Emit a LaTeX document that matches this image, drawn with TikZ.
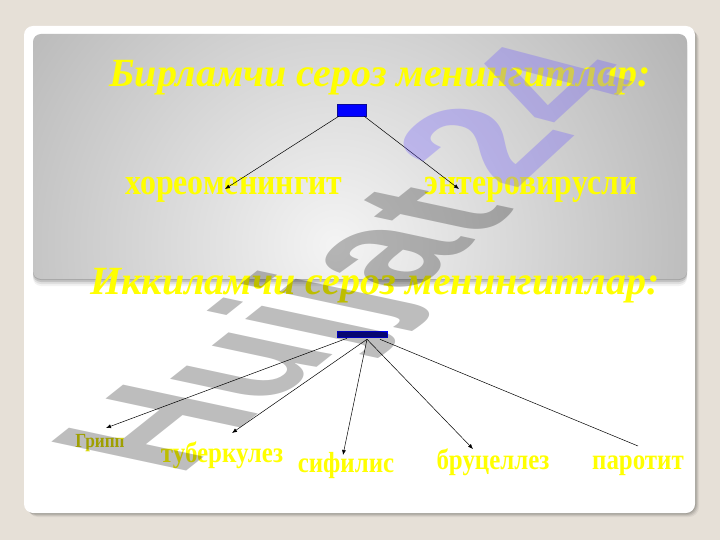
\documentclass[tikz,border=0pt]{standalone}
\usepackage{fontspec}
\setmainfont{Liberation Serif}
\newfontfamily\lblfont[FakeStretch=0.86]{Liberation Serif}
\newfontfamily\wmfont{Liberation Sans}
\usetikzlibrary{arrows.meta}

\definecolor{pagebg}{RGB}{230,224,215}
\definecolor{panelgrey}{RGB}{148,148,148}
\definecolor{panellight}{RGB}{244,244,244}
\definecolor{boxblue}{RGB}{0,0,255}
\definecolor{boxnavy}{RGB}{10,10,150}
\definecolor{lblyellow}{RGB}{255,255,0}
\definecolor{dimyellow}{RGB}{215,215,0}
\definecolor{wmlilac}{RGB}{110,90,255}

\tikzset{
  heading/.style={text=lblyellow, font=\fontsize{40}{44}\selectfont\bfseries\itshape, inner sep=0pt},
  kindtext/.style={text=lblyellow, font=\fontsize{37}{40}\selectfont\lblfont\bfseries, inner sep=0pt},
  smalltext/.style={text=lblyellow, font=\fontsize{29}{32}\selectfont\lblfont\bfseries, inner sep=0pt},
  rootbox/.style={draw=boxnavy, fill=boxblue, line width=0.6pt, inner sep=0pt},
  arr/.style={-{Latex[length=5pt,width=4pt]}, line width=0.5pt},
  wmark/.style={transform shape, inner sep=0pt, font=\fontsize{100}{100}\selectfont\wmfont\bfseries},
}

\begin{document}
\begin{tikzpicture}[x=1pt,y=-1pt]
\useasboundingbox (0,0) rectangle (720,540);
\fill[pagebg] (0,0) rectangle (720,540);

% card with soft shadow
\foreach \d/\o in {4/0.05,3/0.07,2/0.09,1/0.11}
  \fill[black,opacity=\o,rounded corners=10pt] (24+\d,26+\d) rectangle (695+\d,513+\d);
\fill[white,rounded corners=9pt] (24,26) rectangle (695,513);

% grey panel
\foreach \d/\o in {7/0.05,5/0.08,3/0.12,1/0.15}
  \fill[black,opacity=\o,rounded corners=8pt] (33,34+\d) rectangle (687,279+\d);
\begin{scope}
  \clip[rounded corners=8pt] (33,34) rectangle (687,279);
  \shade[inner color=panellight, outer color=panelgrey] (335,245) circle (620);
\end{scope}

% primary
\node[heading] (primtitle) at (380,78) {Бирламчи сероз менингитлар:};
\node[rootbox, minimum width=29pt, minimum height=12pt] (prim) at (351.5,110) {};
\node[kindtext] (khor) at (234,190) {хореоменингит};
\node[kindtext] (entero) at (531,190) {энтеровирусли};
\coordinate (khor tip) at (225,189);
\coordinate (entero tip) at (459,189);
\draw[arr] ([xshift=2pt]prim.south west) -- (khor tip);
\draw[arr] ([xshift=-2pt]prim.south east) -- (entero tip);

% secondary
\node[heading] (sectitle) at (375,286) {Иккиламчи сероз менингитлар:};
\node[rootbox, fill=boxnavy, draw=boxblue, minimum width=50pt, minimum height=6pt] (sec) at (362,334) {};
\node[smalltext, text=dimyellow, font=\fontsize{20}{22}\selectfont\lblfont\bfseries] (gripp) at (100,443) {Грипп};
\node[smalltext] (tuber) at (222,455) {туберкулез};
\node[smalltext] (sifil) at (346,466) {сифилис};
\node[smalltext] (bruts) at (493,462) {бруцеллез};
\node[smalltext] (parot) at (638,466) {паротит};
\coordinate (gripp tip) at (106,428);
\coordinate (tuber tip) at (232,433);
\coordinate (sifil tip) at (343,455);
\coordinate (bruts tip) at (473,449);
\coordinate (parot end) at (638,446);
\draw[arr] ([xshift=-15pt,yshift=-1pt]sec.south) -- (gripp tip);
\draw[arr] ([xshift=5pt,yshift=-2pt]sec.south) -- (tuber tip);
\draw[arr] ([xshift=5pt,yshift=-2pt]sec.south) -- (sifil tip);
\draw[arr] ([xshift=5pt,yshift=-2pt]sec.south) -- (bruts tip);
\draw[line width=0.5pt] ([xshift=18pt,yshift=-2pt]sec.south) -- (parot end);

% watermark
\begin{scope}[shift={(178,478)}, cm={1.22,0.97,-1.96,0.42,(0,0)}]
  \node[wmark, anchor=base west, text=black, text opacity=0.26] (wmname) at (0,0) {Hujjat};
\end{scope}
\begin{scope}[shift={(514,192)}, cm={1.17,1.08,-1.90,0.50,(0,0)}]
  \node[wmark, anchor=base west, text=wmlilac, text opacity=0.32] (wmnum) at (0,0) {24};
\end{scope}
\end{tikzpicture}
\end{document}
